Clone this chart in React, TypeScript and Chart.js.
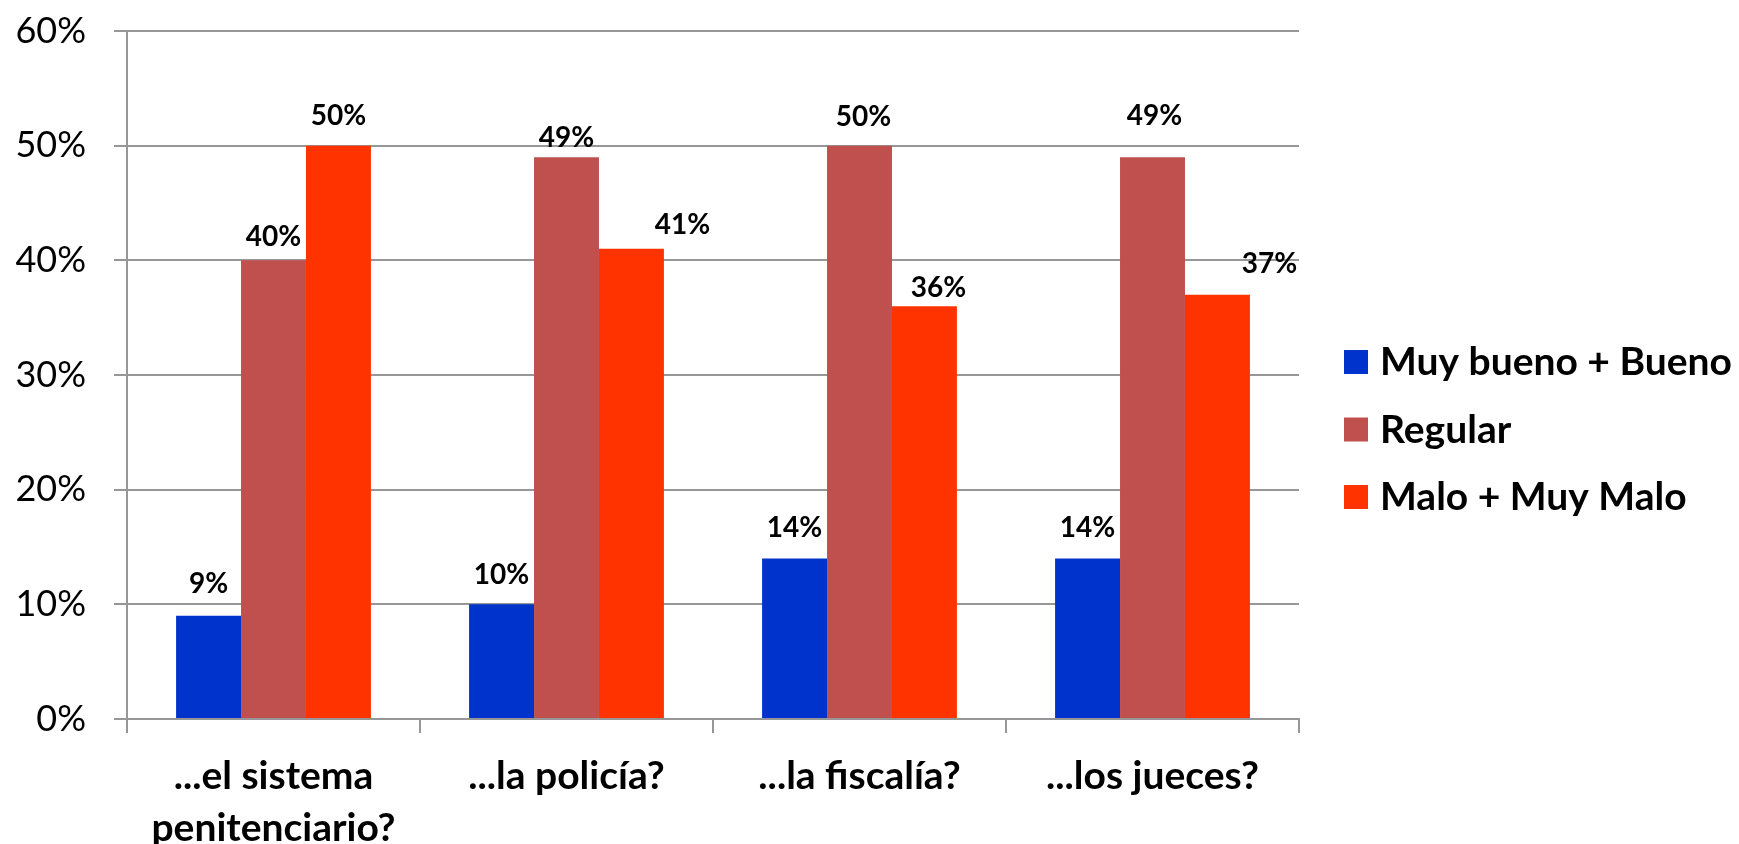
import React, { useEffect, useRef } from "react";
import { Chart, registerables } from "chart.js";

Chart.register(...registerables);

// ---- data ----
const categories: (string | string[])[] = [
  ["...el sistema", "penitenciario?"],
  "...la policía?",
  "...la fiscalía?",
  "...los jueces?",
];
const seriesNames = ["Muy bueno + Bueno", "Regular", "Malo + Muy Malo"];
const muyBuenoBueno = [9, 10, 14, 14];
const regular = [40, 49, 50, 49];
const maloMuyMalo = [50, 41, 36, 37];
const yTickValues = [0, 10, 20, 30, 40, 50, 60];

// ---- styles ----
const seriesColors = ["#0033CC", "#C0504D", "#FF3300"];
const GRID = "#979797";
const FONT = "Lato, 'Open Sans', sans-serif";
const W = 1739;
const H = 880; // taller than the window: bottom is clipped like the reference

// label nudges (dx, dy) relative to bar top centre, per series
const labelNudges: [number, number][][] = [
  [[0, -32], [0, -29], [0, -30], [0, -30]],
  [[0, -23], [0, -19], [4, -29], [2, -41]],
  [[0, -30], [51, -24], [14, -18], [52, -31]],
];

const dataLabelPlugin = {
  id: "dataLabels",
  afterDatasetsDraw(chart: any) {
    const ctx = chart.ctx;
    ctx.save();
    ctx.fillStyle = "#000";
    ctx.font = `bold 28px ${FONT}`;
    ctx.textAlign = "center";
    ctx.textBaseline = "middle";
    chart.data.datasets.forEach((ds: any, di: number) => {
      const meta = chart.getDatasetMeta(di);
      meta.data.forEach((bar: any, i: number) => {
        const [dx, dy] = labelNudges[di][i];
        ctx.fillText(`${ds.data[i]}%`, bar.x + dx, bar.y + dy);
      });
    });
    ctx.restore();
  },
};

const legendPlugin = {
  id: "customLegend",
  afterDraw(chart: any) {
    const ctx = chart.ctx;
    ctx.save();
    ctx.font = `bold 39px ${FONT}`;
    ctx.textAlign = "left";
    ctx.textBaseline = "alphabetic";
    const x0 = 1344;
    const y0 = 362;
    const step = 67.5;
    chart.data.datasets.forEach((ds: any, i: number) => {
      const cy = y0 + i * step;
      ctx.fillStyle = ds.backgroundColor;
      ctx.fillRect(x0, cy - 12, 24, 24);
      ctx.fillStyle = "#000";
      ctx.fillText(ds.label, x0 + 36, cy + 13);
    });
    ctx.restore();
  },
};

export default function App() {
  const canvasRef = useRef<HTMLCanvasElement | null>(null);

  useEffect(() => {
    document.body.style.margin = "0";
    const canvas = canvasRef.current;
    if (!canvas) return;
    const seriesValues = [muyBuenoBueno, regular, maloMuyMalo];
    const chart = new Chart(canvas, {
      type: "bar",
      data: {
        labels: categories as any,
        datasets: seriesNames.map((name, i) => ({
          label: name,
          data: seriesValues[i],
          backgroundColor: seriesColors[i],
          borderWidth: 0,
          barPercentage: 1,
          categoryPercentage: 0.665,
        })),
      },
      options: {
        animation: false,
        responsive: false,
        devicePixelRatio: 1,
        layout: { padding: { left: 0, right: 440, top: 31, bottom: 0 } },
        plugins: {
          legend: { display: false },
          tooltip: { enabled: false },
        },
        scales: {
          x: {
            grid: {
              display: true,
              drawOnChartArea: false,
              drawTicks: true,
              tickLength: 14,
              color: GRID,
              lineWidth: 2,
              offset: true,
            },
            border: { display: true, color: GRID, width: 2 },
            ticks: {
              color: "#000",
              font: { family: FONT, size: 39, weight: "bold", lineHeight: "52px" },
              padding: 17,
              maxRotation: 0,
              autoSkip: false,
            },
            afterFit: (s: any) => {
              s.height = H - 719;
              s.paddingLeft = 0;
              s.paddingRight = 0;
            },
          },
          y: {
            min: 0,
            max: 60,
            afterBuildTicks: (s: any) => {
              s.ticks = yTickValues.map((v) => ({ value: v }));
            },
            ticks: {
              callback: (v: any) => `${v}%`,
              padding: 28,
              color: "#000",
              font: { family: FONT, size: 36 },
            },
            grid: { color: GRID, lineWidth: 2, tickLength: 13 },
            border: { display: true, color: GRID, width: 2 },
            afterFit: (s: any) => {
              s.width = 127;
              s.paddingTop = 0;
              s.paddingBottom = 0;
            },
          },
        },
      } as any,
      plugins: [dataLabelPlugin, legendPlugin],
    });
    return () => chart.destroy();
  }, []);

  return (
    <div style={{ width: W, height: 844, overflow: "hidden", position: "relative", background: "#fff" }}>
      <canvas ref={canvasRef} width={W} height={H} style={{ display: "block", width: W, height: H }} />
    </div>
  );
}
